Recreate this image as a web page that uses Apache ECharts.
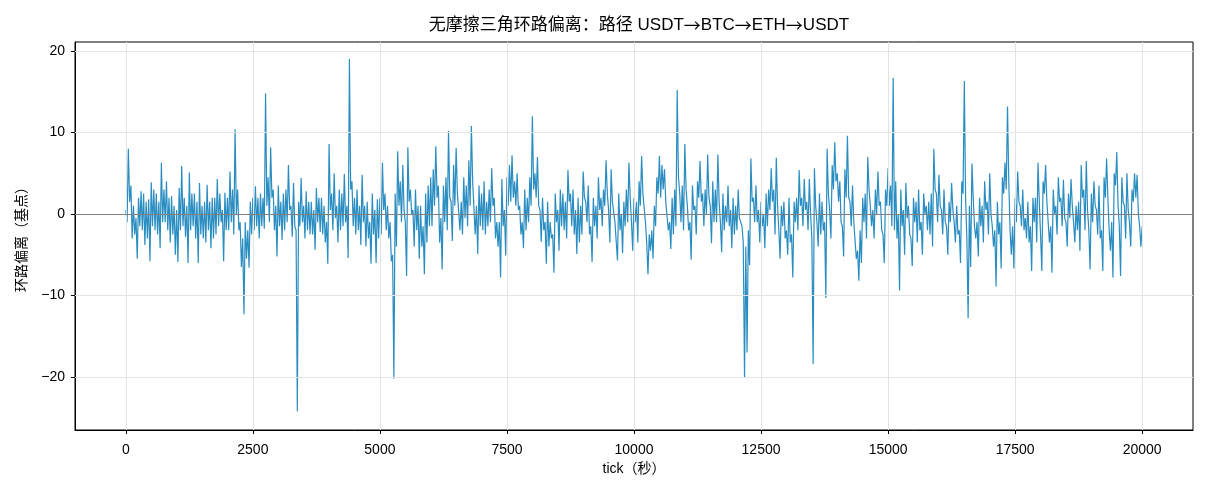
<!DOCTYPE html>
<html>
<head>
<meta charset="utf-8">
<script src="https://cdn.jsdelivr.net/npm/echarts@6/dist/echarts.min.js"></script>
<style>
  html, body { margin: 0; padding: 0; background: #fff; }
  #main { width: 1210px; height: 495px; }
</style>
</head>
<body>
<div id="main"></div>
<script>
const binTicks = 50;
// bin highs, basis points
const binHigh = [
  0.5, 8.0, 3.5, 1.0, -0.5, 2.0, 2.8, 2.5, 1.5, 1.8, 3.9, 3.0, 2.5, 1.5, 6.3, 3.0, 4.0, 2.0, 2.2, 1.0,
  0.5, 3.2, 5.9, 2.0, 1.0, 5.1, 2.5, 2.5, 1.5, 3.8, 1.0, 1.5, 3.6, 1.5, 2.0, 2.0, 4.3, 2.5, 0.5, 2.6,
  2.0, 5.2, 3.0, 10.4, 3.0, -1.0, -3.0, -1.0, -2.0, 1.5, 2.0, 3.4, 2.0, 2.5, 2.0, 14.8, 4.5, 8.2, 3.0, 1.0,
  3.5, 1.5, 2.5, 3.0, 6.0, 1.0, 3.8, -2.0, 1.5, 4.4, 1.0, 2.8, 1.5, 1.5, 0.5, 3.2, 2.0, 2.0, 1.0, -1.0,
  8.6, 2.5, 5.0, 1.0, 3.0, 2.5, 4.9, 1.0, 19.0, 4.0, 2.0, 3.0, 1.0, 4.8, 1.0, 1.5, -1.0, 2.5, 0.5, 1.8,
  2.0, 6.3, 2.5, 1.0, -1.0, -5.0, 2.5, 7.7, 4.0, 6.0, -1.0, 8.2, 3.0, 0.5, 3.0, 1.0, 1.0, -1.5, 2.5, 3.5,
  4.5, 5.5, 8.3, 3.5, -0.5, 3.5, 4.5, 10.2, 1.5, 6.0, 8.1, 2.5, 1.5, 4.5, 3.5, 6.6, 10.8, 4.0, 1.0, 3.5,
  2.5, 4.0, 1.5, 3.0, 5.6, 2.0, -1.0, -1.0, 4.3, 0.5, 4.5, 6.0, 7.2, 4.0, 5.0, 1.0, -1.0, 3.0, 2.0, 4.5,
  12.0, 5.0, 7.0, 0.5, 2.0, -1.0, 1.5, -1.0, -2.5, 2.5, 0.5, 3.0, 2.5, 1.5, 5.4, 2.5, 3.0, 0.5, 2.0, 1.0,
  5.2, 1.5, 3.5, -1.5, 2.0, 1.0, 4.5, 2.0, 3.0, 6.6, 0.5, 5.5, 1.5, -1.0, 2.5, 0.0, 1.5, 3.0, 6.3, -1.0,
  2.0, 1.5, 4.0, 7.1, 2.5, -3.5, -2.5, -2.0, 1.0, 4.5, 7.1, 6.0, 5.5, 1.5, -1.0, 2.0, 3.0, 15.2, 2.5, 3.5,
  8.6, 1.0, -1.0, 3.5, 1.0, 4.0, 6.5, 2.5, 3.0, 7.3, 1.0, 4.0, 3.0, 7.3, -1.0, 2.5, 1.0, 3.5, 0.5, 2.0,
  1.0, 3.0, -0.5, -3.5, -4.0, -2.0, 6.8, 2.0, 3.5, 0.5, 1.5, 0.0, 2.5, 3.0, 5.6, 3.0, 6.9, -2.0, 1.0, 1.5,
  -2.0, 2.0, -2.5, 1.5, 2.0, 5.4, 2.0, 4.3, 1.5, 4.3, -3.0, 5.6, -1.0, 2.5, 1.5, -1.0, 8.0, 0.5, 6.0, 8.8,
  5.0, 4.0, -1.5, 5.5, 9.6, 1.5, 3.5, -1.0, -4.5, -2.0, 2.0, 2.5, 7.0, 1.0, 0.5, 3.0, 5.2, 1.5, -2.5, 3.0,
  5.6, 3.5, 16.7, 4.0, 0.0, 3.0, 0.5, 3.8, 1.0, -3.0, 2.0, 1.5, 3.0, -1.0, 2.5, 1.0, 1.5, 2.5, 8.0, 2.5,
  4.8, 0.5, 3.0, -1.5, 1.5, 3.8, -1.0, 1.0, -2.0, 4.0, 16.3, -3.0, 1.0, 6.2, -1.5, -1.0, 2.0, 1.0, 4.0, 1.5,
  5.0, -1.5, -2.0, 1.5, -1.0, 4.5, 6.3, 13.2, -2.0, -1.5, 2.0, 5.2, 1.0, 3.0, -0.5, 1.5, -1.5, 2.0, 2.0, 6.3,
  -2.5, 4.0, 6.0, 1.5, -1.5, 3.0, 1.0, 4.5, 2.0, 4.2, -1.0, 2.5, 4.3, -1.0, 1.0, 1.5, 6.0, 3.0, 6.5, -2.0,
  2.5, 4.0, 0.5, 3.5, -2.0, 4.5, 6.8, -2.0, -1.0, 5.0, 7.6, -1.5, 4.5, 1.0, 5.0, -1.0, 3.0, 5.0, 4.8, -1.5,
  -1.5
];
// bin lows, basis points
const binLow = [
  -1.0, 1.5, -3.0, -2.5, -5.5, -1.5, -2.0, -3.8, -3.0, -5.8, -1.5, -2.0, -2.5, -4.2, -1.0, -1.0, -2.0, -3.5, -2.5, -5.0,
  -5.9, -2.0, -1.5, -2.8, -6.0, -2.0, -1.5, -3.0, -6.0, -2.5, -3.0, -3.5, -2.0, -4.2, -3.0, -2.5, -1.5, -1.0, -5.8, -2.0,
  -2.0, -1.0, -2.5, 0.0, -2.0, -6.5, -12.3, -5.5, -6.6, -2.5, -2.0, -1.5, -3.0, -1.5, -1.8, 1.0, -1.0, 2.0, -2.0, -5.2,
  -1.5, -3.2, -2.0, -1.0, 0.5, -2.8, -1.5, -24.2, -1.5, -1.0, -3.0, -2.0, -2.5, -2.5, -4.4, -1.0, -2.2, -2.5, -3.5, -6.1,
  0.5, -2.0, -0.5, -3.5, -2.0, -1.5, -1.0, -5.4, 3.0, -1.5, -2.5, -2.0, -3.8, -1.0, -4.0, -3.0, -6.1, -2.5, -6.0, -3.0,
  -2.5, 0.5, -2.0, -3.0, -5.8, -20.2, -4.0, 1.0, -1.0, 0.5, -7.6, 1.5, 0.0, -4.0, -2.0, -5.5, -4.0, -7.4, -3.5, -1.5,
  -1.5, 1.0, 2.0, -3.5, -6.8, -1.0, -2.0, 2.0, -3.3, 1.0, 2.5, -2.0, -2.5, -0.5, -1.5, 1.0, 4.0, -2.5, -4.9, -1.5,
  -2.0, -2.5, -1.5, -1.0, 1.0, -3.0, -4.0, -7.8, -1.5, -5.1, 1.0, 1.5, 2.0, 1.0, 0.5, -2.5, -4.2, -2.0, -1.0, 1.0,
  3.0, 2.0, 1.0, -3.4, -2.0, -6.1, -4.0, -3.0, -7.2, -1.0, -4.5, -1.5, -2.0, -3.0, 1.5, -1.5, -2.5, -4.9, -3.5, -2.5,
  2.0, -1.0, -2.5, -5.9, -1.5, -3.0, 0.5, -1.5, 1.0, 2.5, -3.5, 1.5, -1.0, -5.7, -2.0, -4.8, -1.5, -1.0, 2.0, -4.5,
  -1.0, -3.5, 1.0, 2.5, -1.0, -7.4, -4.5, -5.5, -1.5, 2.5, 2.0, 3.0, 1.5, -2.0, -4.3, -2.5, -1.5, 4.5, -1.0, -2.0,
  3.0, -2.0, -5.6, 0.5, -2.5, 2.0, 1.5, -1.5, 0.0, 2.0, -3.6, -1.0, -1.0, 1.5, -4.7, -2.0, -1.0, -1.5, -4.2, -2.5,
  -2.0, -0.5, -1.5, -20.1, -17.0, -6.3, 1.5, -1.0, -1.0, -3.5, -1.5, -4.2, -1.5, 0.5, 1.5, -2.5, 1.0, -5.5, -1.5, -3.0,
  -5.0, -3.5, -7.8, -1.0, -2.0, 1.0, -1.5, 0.5, -2.0, 0.0, -18.4, 1.0, -4.0, -2.5, -2.0, -10.3, 2.5, -3.0, 3.0, 4.0,
  1.5, -1.0, -5.2, 2.0, 2.0, -1.5, -1.0, -5.5, -8.2, -6.0, -1.0, -3.0, 3.0, -1.5, -3.0, 0.0, 1.0, -2.0, -6.0, 1.0,
  1.0, -1.5, -2.0, -3.0, -9.4, -1.5, -5.0, -0.5, -2.5, -6.4, -1.0, -3.5, -2.0, -5.0, 0.0, -2.0, -2.5, -4.0, 3.0, -1.0,
  1.0, -2.5, -1.0, -5.0, -1.0, 0.5, -3.5, -2.5, -6.0, 2.5, 2.0, -12.8, -6.5, 2.0, -3.0, -5.2, -1.5, -3.5, 0.5, -2.5,
  0.0, -4.0, -8.9, -2.5, -6.7, 2.5, 3.0, 4.0, -5.0, -6.7, -1.0, 1.5, -1.5, -2.0, -3.0, -3.5, -7.0, -1.0, -3.5, 1.5,
  -7.0, 2.5, 1.5, -3.5, -7.2, 0.0, -2.5, 1.5, -1.5, -0.5, -4.0, -0.5, 1.0, -3.5, -2.0, -4.5, 2.0, -2.0, 0.5, -6.8,
  -1.0, 1.0, -2.5, -3.0, -7.0, 2.0, 2.0, -4.5, -7.8, 3.5, 1.0, -7.6, 1.5, -3.0, 0.5, -4.0, 1.5, 2.0, 0.0, -4.0,
  -3.0
];
const xTicks = [0, 2500, 5000, 7500, 10000, 12500, 15000, 17500, 20000];
const yTicks = [-20, -10, 0, 10, 20];

// trace goes high, low, high, low ... through the bins
const seriesData = [];
binHigh.forEach((h, i) => {
  seriesData.push([i * binTicks, h]);
  if (i < binHigh.length - 1) seriesData.push([i * binTicks + binTicks / 2, binLow[i]]);
  else seriesData.push([i * binTicks, binLow[i]]);
});

const chart = echarts.init(document.getElementById('main'));
const font = '"Liberation Sans", "Noto Sans CJK SC", sans-serif';
const cjk = '"Noto Sans CJK SC", sans-serif';
const minus = v => (v < 0 ? '\u2212' + Math.abs(v) : String(v));

const gridLines = [];
xTicks.forEach(v => gridLines.push({ xAxis: v }));
yTicks.forEach(v => gridLines.push({ yAxis: v }));

chart.setOption({
  animation: false,
  backgroundColor: '#fff',
  title: {
    text: '无摩擦三角环路偏离：路径 USDT{a|→}BTC{a|→}ETH{a|→}USDT',
    left: 634,
    textAlign: 'center',
    top: 12,
    textStyle: {
      fontFamily: font, fontSize: 17, fontWeight: 'normal', color: '#000',
      rich: { a: { fontFamily: cjk, fontSize: 17, color: '#000' } }
    }
  },
  grid: {
    left: 75, right: 17, top: 42, bottom: 65,
    show: true, borderColor: '#000', borderWidth: 1, backgroundColor: 'transparent'
  },
  xAxis: {
    type: 'value',
    min: -1000,
    max: 21000,
    name: 'tick（秒）',
    nameLocation: 'middle',
    nameGap: 32,
    nameTextStyle: { fontFamily: font, fontSize: 14, color: '#000' },
    axisLine: { show: true, onZero: false, lineStyle: { color: '#000', width: 1 } },
    axisTick: { show: true, length: 4, customValues: xTicks, lineStyle: { color: '#000' } },
    axisLabel: { customValues: xTicks, formatter: v => String(v), fontFamily: font, fontSize: 14, color: '#000', margin: 13 },
    splitLine: { show: false }
  },
  yAxis: {
    type: 'value',
    min: -26.5,
    max: 21.1,
    name: '环路偏离（基点）',
    nameLocation: 'middle',
    nameGap: 46,
    nameTextStyle: { fontFamily: font, fontSize: 14, color: '#000' },
    axisLine: { show: true, onZero: false, lineStyle: { color: '#000', width: 1 } },
    axisTick: { show: true, length: 4, customValues: yTicks, lineStyle: { color: '#000' } },
    axisLabel: { customValues: yTicks, formatter: minus, fontFamily: font, fontSize: 14, color: '#000', margin: 10 },
    splitLine: { show: false }
  },
  series: [
    {
      name: 'grid',
      type: 'line',
      data: [],
      z: 1,
      silent: true,
      markLine: {
        silent: true,
        symbol: 'none',
        label: { show: false },
        lineStyle: { color: '#e3e3e3', width: 1, type: 'solid' },
        data: gridLines
      }
    },
    {
      name: '偏离',
      type: 'line',
      data: seriesData,
      z: 2,
      showSymbol: false,
      symbol: 'none',
      lineStyle: { color: '#2a8dc1', width: 1.2 },
      itemStyle: { color: '#2a8dc1' }
    },
    {
      name: 'zero',
      type: 'line',
      data: [],
      z: 3,
      silent: true,
      markLine: {
        silent: true,
        symbol: 'none',
        label: { show: false },
        lineStyle: { color: '#808080', width: 1, type: 'solid' },
        data: [{ yAxis: 0 }]
      }
    }
  ]
});
</script>
</body>
</html>
